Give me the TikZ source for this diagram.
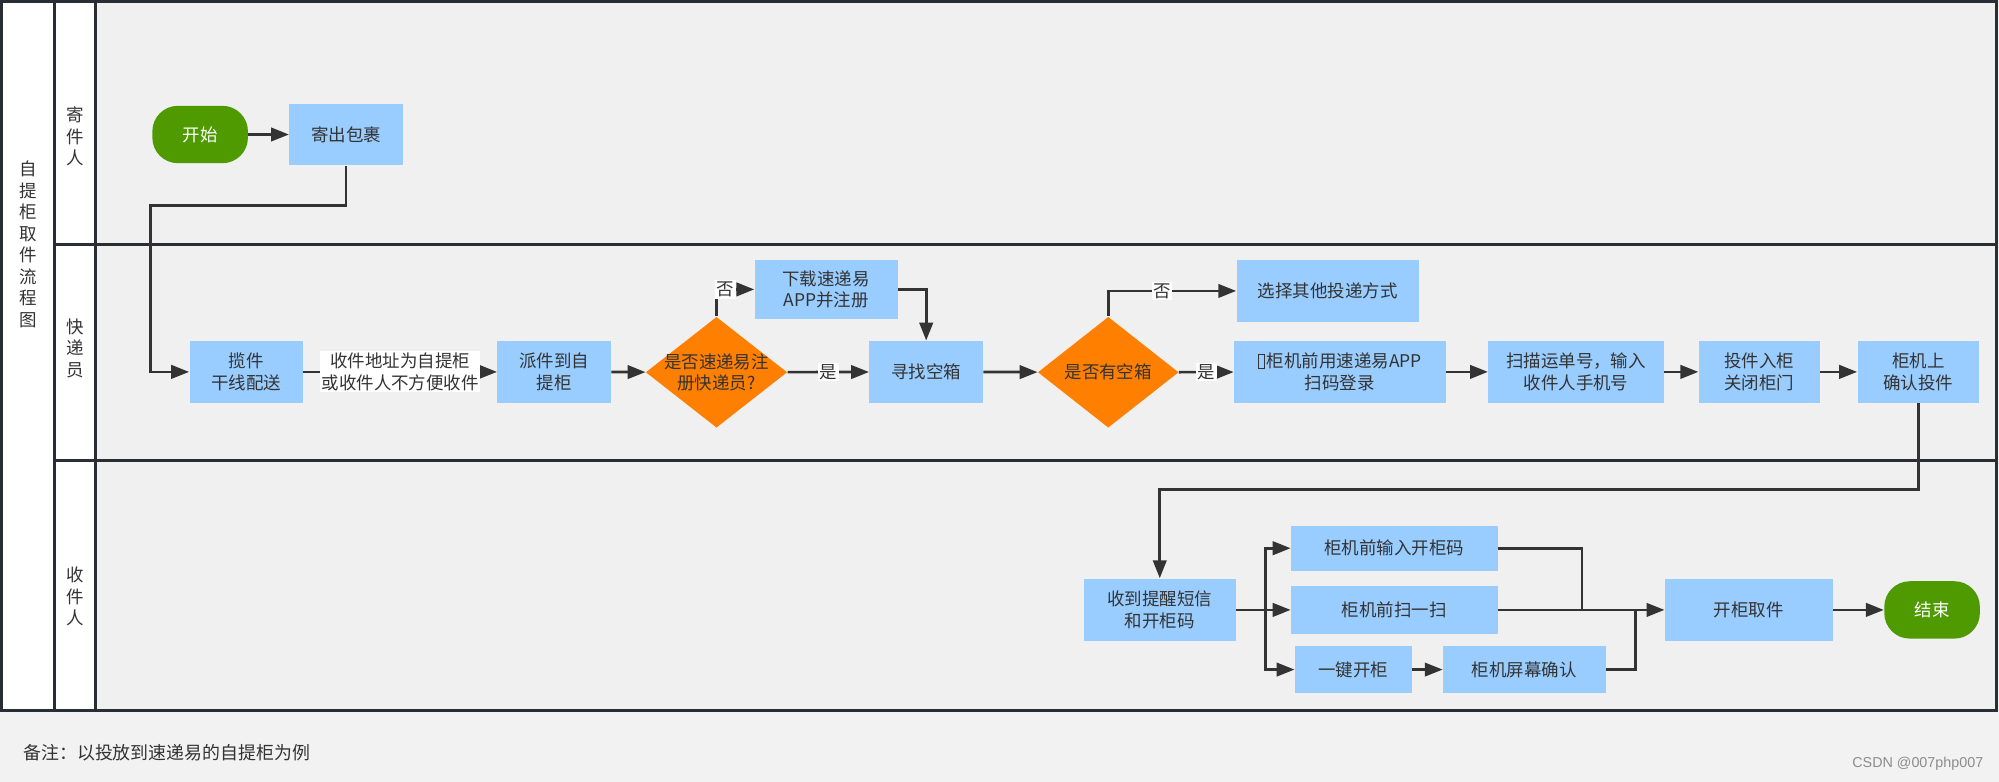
\documentclass[tikz,border=0pt]{standalone}
\usepackage{fontspec}
\setmainfont{Noto Sans CJK SC}
\newfontfamily\markfont{Liberation Sans}
\usepackage{tikz}
\usetikzlibrary{arrows.meta}
\usetikzlibrary{shapes.geometric}
\definecolor{framegray}{RGB}{40,46,52}
\definecolor{pagegray}{RGB}{242,242,242}
\definecolor{lanegray}{RGB}{240,240,240}
\definecolor{boxblue}{RGB}{153,204,255}
\definecolor{decorange}{RGB}{255,128,0}
\definecolor{startgreen}{RGB}{78,154,0}
\definecolor{linegray}{RGB}{51,51,51}
\definecolor{markgray}{RGB}{140,140,140}
\newcommand\flowfont{\fontsize{7.8pt}{9.6pt}\selectfont}
\newcommand\tofubox{{\setlength\fboxsep{0pt}\setlength\fboxrule{0.4pt}\fbox{\rule{0pt}{0.72em}\hspace{0.32em}}}\hspace{0.08em}}
\tikzset{
    grayline/.style={
        draw=linegray,
        line width=1.2pt
    },
    % 带箭头的连线
    grayarrow/.style={
        grayline,
        -{Triangle[length=8pt, width=6pt]}
    },
    bluebox/.style={
        fill=boxblue,
        text=linegray,
        font=\flowfont,
        align=center,
        inner sep=0pt,
        minimum width=1.78cm,
        minimum height=0.97cm
    },
    orangediamond/.style={
        diamond,
        fill=decorange,
        inner sep=0pt,
        minimum width=2.22cm,
        minimum height=1.74cm
    },
    greenend/.style={
        fill=startgreen,
        text=white,
        font=\flowfont,
        inner sep=0pt,
        rounded corners=0.4cm,
        minimum width=1.5cm,
        minimum height=0.9cm
    },
    plaintext/.style={
        text=linegray,
        font=\flowfont,
        align=center,
        inner sep=0pt
    },
    whitelabel/.style={
        plaintext,
        fill=white,
        inner sep=0.7pt
    },
    lanetext/.style={
        plaintext,
        font=\fontsize{7.8pt}{9.6pt}\selectfont
    }
}

\begin{document}
\begin{tikzpicture}[x=0.02cm,y=-0.02cm]
    \useasboundingbox (0,0) rectangle (1568,613);
    \fill[pagegray] (0,0) rectangle (1568,613);
    \fill[lanegray] (75,1.5) rectangle (1566,557);
    \fill[white] (1.5,1.5) rectangle (75,557);
    \draw[framegray,line width=1.4pt] (1.5,1.5) rectangle (1566,557);
    \draw[framegray,line width=1.4pt] (43,1.5) -- (43,557) (75,1.5) -- (75,557)
    (43,191.5) -- (1566,191.5) (43,361.5) -- (1566,361.5);
    
    \node[lanetext] (title) at (22.5,191.5) {自\\提\\柜\\取\\件\\流\\程\\图};
    \node[lanetext] (lane1) at (59,107) {寄\\件\\人};
    \node[lanetext] (lane2) at (59,273) {快\\递\\员};
    \node[lanetext] (lane3) at (59,468) {收\\件\\人};
    
    % 寄件人
    \node[greenend] (start) at (157,105.5) {开始};
    \node[bluebox] (send) at (271.5,105.5) {寄出包裹};
    
    % 快递员
    \node[bluebox] (pick) at (193.2,291.7) {揽件\\干线配送};
    \node[bluebox] (deliver) at (434.7,291.7) {派件到自\\提柜};
    \node[orangediamond] (q1) at (562,292) {};
    \node[plaintext] (q1text) at (q1) {是否速递易注\\册快递员?};
    \node[bluebox,minimum width=2.24cm,minimum height=0.92cm] (download) at (648,227) {下载速递易\\APP并注册};
    \node[bluebox] (find) at (726.5,291.7) {寻找空箱};
    \node[orangediamond,minimum width=2.21cm] (q2) at (869.3,292) {};
    \node[plaintext] (q2text) at (q2) {是否有空箱};
    \node[bluebox,minimum width=2.86cm] (other) at (1041.5,228.2) {选择其他投递方式};
    \node[bluebox,minimum width=3.32cm] (login) at (1051,291.7) {\tofubox 柜机前用速递易APP\\扫码登录};
    \node[bluebox,minimum width=2.75cm] (scan) at (1236.2,291.7) {扫描运单号，输入\\收件人手机号};
    \node[bluebox,minimum width=1.9cm] (drop) at (1380,291.7) {投件入柜\\关闭柜门};
    \node[bluebox,minimum width=1.91cm] (confirm) at (1504.8,291.7) {柜机上\\确认投件};
    
    % 收件人
    \node[bluebox,minimum width=2.39cm,minimum height=0.98cm] (notify) at (909.7,478.4) {收到提醒短信\\和开柜码};
    \node[bluebox,minimum width=3.24cm,minimum height=0.7cm] (inputcode) at (1093.7,430) {柜机前输入开柜码};
    \node[bluebox,minimum width=3.24cm,minimum height=0.75cm] (scanqr) at (1093.7,478.4) {柜机前扫一扫};
    \node[bluebox,minimum width=1.83cm,minimum height=0.74cm] (onekey) at (1061.5,525.2) {一键开柜};
    \node[bluebox,minimum width=2.55cm,minimum height=0.74cm] (screen) at (1195.7,525.2) {柜机屏幕确认};
    \node[bluebox,minimum width=2.63cm,minimum height=0.98cm] (take) at (1371.7,478.4) {开柜取件};
    \node[greenend] (finish) at (1515.5,478.4) {结束};
    
    \coordinate (bend1) at (118,161);
    \coordinate (bend2) at (1504.8,384);
    \coordinate (split) at (992.5,478.4);
    \coordinate (merge1) at (1240.8,478.4);
    \coordinate (merge2) at (1282.8,478.4);
    
    \draw[grayarrow] (start) -- (send);
    \draw[grayarrow] (send.south) |- (bend1) |- (pick.west);
    \draw[grayarrow] (pick) -- node[whitelabel] (cond) {收件地址为自提柜\\或收件人不方便收件} (deliver);
    \draw[grayarrow] (deliver) -- (q1);
    \draw[grayarrow] (q1) -- node[whitelabel] (yes1) {是} (find);
    \draw[grayarrow] (q1.north) |- node[whitelabel,pos=0.62] (no1) {否} (download.west);
    \draw[grayarrow] (download.east) -| (find.north);
    \draw[grayarrow] (find) -- (q2);
    \draw[grayarrow] (q2) -- node[whitelabel] (yes2) {是} (login);
    \draw[grayarrow] (q2.north) |- node[whitelabel,pos=0.71] (no2) {否} (other.west);
    \draw[grayarrow] (login) -- (scan);
    \draw[grayarrow] (scan) -- (drop);
    \draw[grayarrow] (drop) -- (confirm);
    \draw[grayarrow] (confirm.south) -- (bend2) -| (notify.north);
    
    \draw[grayline] (notify.east) -- (split);
    \draw[grayarrow] (split) |- (inputcode.west);
    \draw[grayarrow] (split) -- (scanqr.west);
    \draw[grayarrow] (split) |- (onekey.west);
    \draw[grayarrow] (onekey) -- (screen);
    \draw[grayline] (inputcode.east) -| (merge1);
    \draw[grayline] (screen.east) -| (merge2);
    \draw[grayarrow] (scanqr.east) -- (take.west);
    \draw[grayarrow] (take) -- (finish);
    
    \node[plaintext,anchor=west,font=\fontsize{8pt}{9.6pt}\selectfont] (note) at (18,590.6) {备注：以投放到速递易的自提柜为例};
    \node[anchor=east,inner sep=0pt,text=markgray,font=\markfont\fontsize{6.4pt}{7.5pt}\selectfont] (mark) at (1556,599) {CSDN @007php007};
\end{tikzpicture}
\end{document}
